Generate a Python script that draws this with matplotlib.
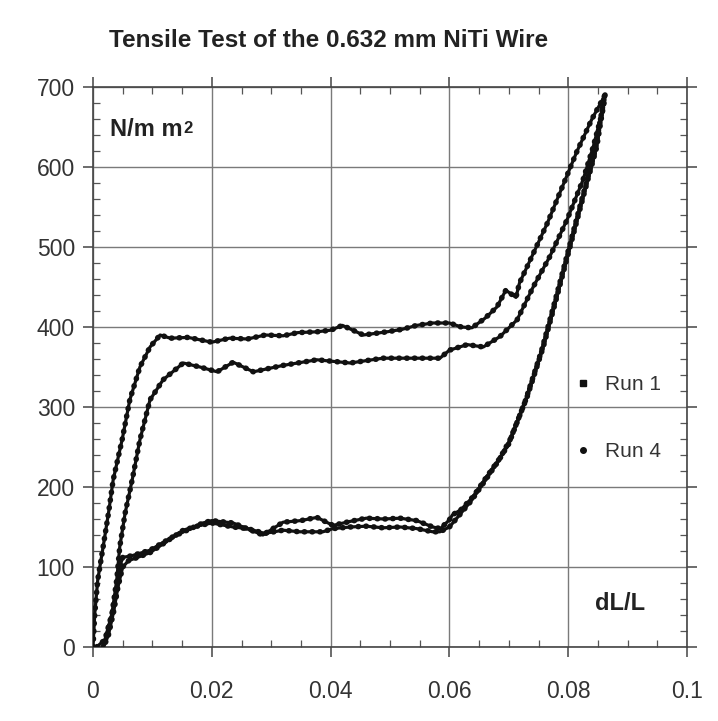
import matplotlib
matplotlib.use('Agg')
import matplotlib.pyplot as plt
from matplotlib.lines import Line2D
from matplotlib.ticker import MultipleLocator, FormatStrFormatter

plt.rcParams['font.family'] = ['Liberation Sans Narrow', 'Liberation Sans', 'DejaVu Sans']

# loading branch, run 1 (upper plateau)
run1_load_x = [0, 0.0003, 0.0008, 0.0017, 0.0026, 0.0034, 0.0049, 0.0062, 0.0079, 0.0096,
               0.0113, 0.013, 0.016, 0.018, 0.020, 0.023, 0.026, 0.029, 0.032, 0.0345,
               0.0377, 0.040, 0.042, 0.0455, 0.0495, 0.052, 0.0545, 0.0572, 0.060, 0.062,
               0.0638, 0.066, 0.068, 0.0695, 0.0712, 0.0718, 0.074, 0.0765, 0.079, 0.0815,
               0.084, 0.0862]
run1_load_y = [0, 42, 84, 125, 167, 209, 259, 309, 350, 375,
               390, 386, 387, 384, 381, 386, 385, 390, 389, 393,
               394, 396, 402, 390, 394, 397, 402, 405, 405, 400,
               399, 411, 425, 446, 437, 455, 490, 530, 575, 620,
               660, 690]

# loading branch, run 4 (lower plateau)
run4_load_x = [0.0006, 0.002, 0.0032, 0.004, 0.0045, 0.0054, 0.0066, 0.0079, 0.0096, 0.0118,
               0.0152, 0.018, 0.0209, 0.0236, 0.027, 0.032, 0.0377, 0.0433, 0.0488, 0.0545,
               0.0584, 0.060, 0.063, 0.0657, 0.0685, 0.0714, 0.0741, 0.0769, 0.0798, 0.0825,
               0.0842, 0.0857, 0.0862]
run4_load_y = [0, 9, 42, 84, 125, 167, 209, 259, 309, 334,
               355, 350, 344, 356, 344, 352, 359, 355, 361, 361,
               361, 371, 378, 375, 388, 409, 450, 488, 534, 584,
               625, 667, 688]

# unloading branches
run1_unload_x = [0.0862, 0.0848, 0.0825, 0.0803, 0.0781, 0.0758, 0.0731, 0.0702, 0.0685, 0.0663,
                 0.064, 0.062, 0.0605, 0.060, 0.0585, 0.0572, 0.0545, 0.0517, 0.049, 0.046,
                 0.0433, 0.0404, 0.0377, 0.035, 0.032, 0.0286, 0.0236, 0.020, 0.0185, 0.0135,
                 0.0096, 0.0065, 0.005, 0.0045, 0.004, 0.0032, 0.0022, 0.0015]
run1_unload_y = [690, 625, 562, 500, 438, 375, 313, 259, 236, 213,
                 188, 172, 165, 159, 148, 150, 158, 161, 160, 161,
                 157, 152, 162, 158, 156, 140, 155, 158, 155, 138,
                 121, 114, 112, 100, 70, 40, 10, 0]

run4_unload_x = [0.0860, 0.0845, 0.0822, 0.0800, 0.0778, 0.0755, 0.0728, 0.0700, 0.0682, 0.0660,
                 0.0637, 0.0617, 0.060, 0.0584, 0.0572, 0.0545, 0.0517, 0.0488, 0.0460, 0.0433,
                 0.0404, 0.0387, 0.0348, 0.0320, 0.0289, 0.0260, 0.0236, 0.020, 0.018, 0.0152,
                 0.012, 0.0096, 0.0075, 0.006, 0.005, 0.0042, 0.0035, 0.0026, 0.0018]
run4_unload_y = [684, 620, 557, 495, 433, 370, 308, 254, 232, 208,
                 183, 165, 150, 144, 144, 148, 150, 149, 151, 150,
                 148, 144, 144, 146, 142, 148, 150, 155, 152, 146,
                 130, 118, 112, 108, 100, 75, 45, 15, 0]

legend_labels = ['Run 1', 'Run 4']

fig = plt.figure(figsize=(7.18, 7.21), dpi=100)
ax = fig.add_axes([93 / 718, 74 / 721, 594 / 718, 560 / 721])

curves = [(run1_load_x, run1_load_y), (run4_load_x, run4_load_y),
          (run1_unload_x, run1_unload_y), (run4_unload_x, run4_unload_y)]
for cx, cy in curves:
    ax.plot(cx, cy, color='#111111', lw=2.3, zorder=3)
    ax.plot(cx, cy, color='#111111', lw=4.0, ls=(0, (0.1, 1.3)),
            dash_capstyle='round', zorder=3)

ax.set_xlim(0, 0.1)
ax.set_ylim(0, 700)
ax.xaxis.set_major_locator(MultipleLocator(0.02))
ax.xaxis.set_minor_locator(MultipleLocator(0.005))
ax.xaxis.set_major_formatter(FormatStrFormatter('%g'))
ax.yaxis.set_major_locator(MultipleLocator(100))
ax.yaxis.set_minor_locator(MultipleLocator(20))

ax.grid(True, which='major', color='#7a7a7a', lw=1.0)
ax.tick_params(which='major', direction='out', length=7, width=1.1, color='#444444',
               labelsize=16.5, labelcolor='#333333', top=True, right=True)
ax.tick_params(axis='x', which='major', pad=17)
ax.tick_params(axis='y', which='major', pad=6)
ax.tick_params(which='minor', direction='in', length=5, width=0.9, color='#555555',
               top=True, right=True)
for sp in ax.spines.values():
    sp.set_color('#444444')
    sp.set_linewidth(1.2)

fig.text(0.457, 0.944, 'Tensile Test of the 0.632 mm NiTi Wire', ha='center',
         va='center', fontsize=17.5, fontweight='bold', color='#222222')

unit = ax.text(0.028, 0.945, 'N/m m', transform=ax.transAxes, fontsize=17,
               fontweight='bold', color='#222222', va='top', ha='left')
ax.annotate('2', xy=(1, 1), xycoords=unit, xytext=(1, -2), textcoords='offset points',
            fontsize=12, fontweight='bold', color='#222222', va='top', ha='left')
ax.text(0.845, 0.057, 'dL/L', transform=ax.transAxes, fontsize=17,
        fontweight='bold', color='#222222', ha='left', va='bottom')

handles = [Line2D([], [], marker='s', ls='', color='#111111', ms=4, label=legend_labels[0]),
           Line2D([], [], marker='o', ls='', color='#111111', ms=4, label=legend_labels[1])]
leg = ax.legend(handles=handles, frameon=False, loc='center left',
                bbox_to_anchor=(0.798, 0.409), fontsize=15, borderpad=0,
                handlelength=0.5, handletextpad=0.8, labelspacing=2.3)
for t in leg.get_texts():
    t.set_color('#333333')

fig.savefig('out.png', dpi=100, facecolor='white')
